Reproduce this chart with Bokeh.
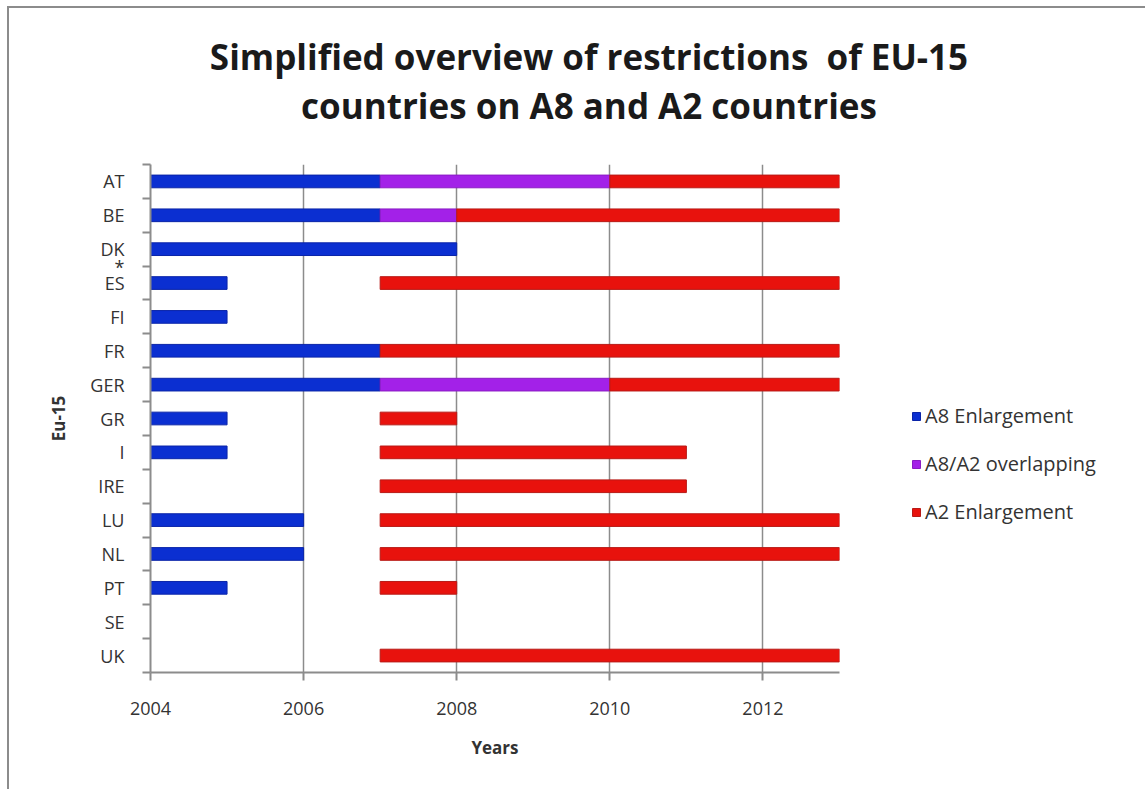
from bokeh.plotting import figure
from bokeh.models import Range1d, FixedTicker, Legend, LegendItem, ColumnDataSource, Div
from bokeh.layouts import column
from bokeh.embed import file_html
from bokeh.resources import INLINE

# ---- data ----
countries = ["AT", "BE", "DK", "ES", "FI", "FR", "GER", "GR", "I", "IRE", "LU", "NL", "PT", "SE", "UK"]
x_ticks = [2004, 2006, 2008, 2010, 2012]
x_start, x_end = 2004, 2013
footnote_country = "ES"
footnote_mark = "*"

a8_countries = ["AT", "BE", "DK", "ES", "FI", "FR", "GER", "GR", "I", "LU", "NL", "PT"]
a8_start = [2004, 2004, 2004, 2004, 2004, 2004, 2004, 2004, 2004, 2004, 2004, 2004]
a8_end = [2007, 2007, 2008, 2005, 2005, 2007, 2007, 2005, 2005, 2006, 2006, 2005]

ov_countries = ["AT", "BE", "GER"]
ov_start = [2007, 2007, 2007]
ov_end = [2010, 2008, 2010]

a2_countries = ["AT", "BE", "ES", "FR", "GER", "GR", "I", "IRE", "LU", "NL", "PT", "UK"]
a2_start = [2010, 2008, 2007, 2007, 2010, 2007, 2007, 2007, 2007, 2007, 2007, 2007]
a2_end = [2013, 2013, 2013, 2013, 2013, 2008, 2011, 2011, 2013, 2013, 2008, 2013]

series_names = ["A8 Enlargement", "A8/A2 overlapping", "A2 Enlargement"]
title_lines = ["Simplified overview of restrictions&nbsp; of EU-15", "countries on A8 and A2 countries"]

# ---- styling ----
FONT = "Open Sans"
GRAY = "#8c8c8c"
TXT = "#333333"
fills = ["#0b2fd1", "#a321e8", "#e8120d"]
edges = ["#0a24a8", "#8a1cc4", "#b81a16"]

n = len(countries)
pos = {c: n - i for i, c in enumerate(countries)}  # AT at top

title_div = Div(text="<br>".join(title_lines), width=1134, height=130,
                styles={"font-family": "'Open Sans'", "font-weight": "bold", "font-size": "35px",
                        "line-height": "49px", "color": "#1a1a1a", "text-align": "center",
                        "padding-top": "19px", "padding-left": "16px", "box-sizing": "border-box",
                        "background": "white", "white-space": "nowrap"})

p = figure(frame_width=689, frame_height=508,
           x_range=Range1d(x_start, x_end), y_range=Range1d(0.5, n + 0.5),
           output_backend="svg", toolbar_location=None,
           min_border_left=141, min_border_right=304, min_border_top=16, min_border_bottom=123)
p.title.text = ""
p.outline_line_color = None
p.background_fill_color = "white"
p.border_fill_color = "white"

renderers = []
for cs, st, en, fc, ec in [(a8_countries, a8_start, a8_end, fills[0], edges[0]),
                           (ov_countries, ov_start, ov_end, fills[1], edges[1]),
                           (a2_countries, a2_start, a2_end, fills[2], edges[2])]:
    src = ColumnDataSource(dict(y=[pos[c] for c in cs], left=st, right=en))
    r = p.hbar(y="y", left="left", right="right", height=0.375, source=src,
               fill_color=fc, line_color=ec, line_width=1)
    renderers.append(r)

# axes
p.xaxis.ticker = FixedTicker(ticks=x_ticks)
p.xaxis.major_tick_in = 0
p.xaxis.major_tick_out = 8
p.xaxis.minor_tick_line_color = None
p.xaxis.axis_line_color = GRAY
p.xaxis.axis_line_width = 2
p.xaxis.major_tick_line_color = GRAY
p.xaxis.major_tick_line_width = 2
p.xaxis.major_label_text_font = FONT
p.xaxis.major_label_text_font_size = "18px"
p.xaxis.major_label_text_color = TXT
p.xaxis.major_label_standoff = 21
p.xaxis.axis_label = "Years"
p.xaxis.axis_label_text_font = FONT
p.xaxis.axis_label_text_font_size = "17px"
p.xaxis.axis_label_text_font_style = "bold"
p.xaxis.axis_label_text_color = TXT
p.xaxis.axis_label_standoff = 18

# label ticks at category centres + a footnote mark just above ES
foot_y = pos[footnote_country] + 0.48
p.yaxis.ticker = FixedTicker(ticks=list(range(1, n + 1)) + [foot_y],
                             minor_ticks=[i + 0.5 for i in range(0, n + 1)])
overrides = {pos[c]: c for c in countries}
overrides[foot_y] = footnote_mark
p.yaxis.major_label_overrides = overrides
p.yaxis.major_tick_line_color = None
p.yaxis.major_tick_in = 0
p.yaxis.major_tick_out = 0
p.yaxis.minor_tick_in = 0
p.yaxis.minor_tick_out = 8
p.yaxis.minor_tick_line_color = GRAY
p.yaxis.minor_tick_line_width = 2
p.yaxis.axis_line_color = GRAY
p.yaxis.axis_line_width = 2
p.yaxis.major_label_text_font = FONT
p.yaxis.major_label_text_font_size = "18px"
p.yaxis.major_label_text_color = TXT
p.yaxis.major_label_standoff = 18
p.yaxis.axis_label = "Eu-15"
p.yaxis.axis_label_text_font = FONT
p.yaxis.axis_label_text_font_size = "17px"
p.yaxis.axis_label_text_font_style = "bold"
p.yaxis.axis_label_text_color = TXT
p.yaxis.axis_label_standoff = 17

p.xgrid.ticker = FixedTicker(ticks=x_ticks)
p.xgrid.grid_line_color = GRAY
p.xgrid.grid_line_width = 1.5
p.ygrid.grid_line_color = None

legend = Legend(items=[LegendItem(label=series_names[i], renderers=[renderers[i]]) for i in range(3)],
                location=(72, 147), orientation="vertical",
                glyph_width=10, glyph_height=10, label_standoff=4, spacing=21,
                label_text_font=FONT, label_text_font_size="20px", label_text_color=TXT,
                padding=0, margin=0, border_line_color=None, background_fill_alpha=0)
p.add_layout(legend, "right")

layout = column(title_div, p, spacing=0)
layout.styles = {"margin-left": "7px", "margin-top": "6px",
                 "border-left": "2px solid #8c8c8c", "border-top": "2px solid #8c8c8c",
                 "background": "white"}

open("out.html", "w").write(file_html(layout, INLINE))
